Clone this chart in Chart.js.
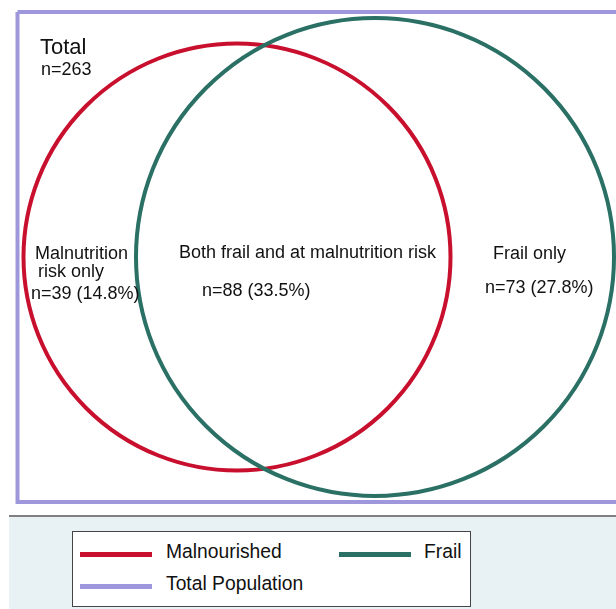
<!DOCTYPE html>
<html>
<head>
<meta charset="utf-8">
<script src="https://cdn.jsdelivr.net/npm/chart.js@4"></script>
<style>
  html, body { margin: 0; padding: 0; background: #fff; }
  #wrap { position: relative; width: 616px; height: 609px; overflow: hidden; font-family: "Liberation Sans", Arial, Helvetica, sans-serif; }
  #chartBox { position: absolute; left: 0; top: 0; width: 616px; height: 516px; }
  #bottom { position: absolute; left: 9px; top: 515px; width: 607px; height: 94px; background: #e8f1f3; border-top: 2px solid #808080; }
  #legend { position: absolute; left: 72px; top: 531px; width: 397px; height: 74px; background: #fff; border: 1.5px solid #444; }
  .item { position: absolute; font-size: 19.3px; color: #111; white-space: nowrap; }
  .swatch { position: absolute; height: 5px; width: 72px; }
</style>
</head>
<body>
<div id="wrap">
  <div id="chartBox"><canvas id="c"></canvas></div>
  <div id="bottom"></div>
  <div id="legend"></div>
</div>
<script>
// ---- data ----
const setNames   = ["Malnourished", "Frail"];
const setColors  = ["#c8102e", "#2a7065"];
const centerX    = [237, 375];
const centerY    = [257, 257];
const radii      = [213.5, 239];
const totalName  = "Total Population";
const totalColor = "#9e97dc";
const totalN     = 263;
const regionLabels = ["Malnutrition risk only", "Both frail and at malnutrition risk", "Frail only"];
const regionCounts = [39, 88, 73];
const regionPct    = [14.8, 33.5, 27.8];
// rectangle corners for total population frame (in plot units)
const rectX = [17.5, 660, 660, 17.5, 17.5];
const rectY = [12, 12, 502, 502, 12];

const FONT = '"Liberation Sans", Arial, Helvetica, sans-serif';

const textPlugin = {
  id: 'vennText',
  afterDatasetsDraw(chart) {
    const ctx = chart.ctx, xs = chart.scales.x, ys = chart.scales.y;
    const put = (t, x, y, size) => {
      ctx.font = size + 'px ' + FONT;
      ctx.fillStyle = '#111';
      ctx.textBaseline = 'alphabetic';
      ctx.textAlign = 'left';
      ctx.fillText(t, xs.getPixelForValue(x), ys.getPixelForValue(y));
    };
    ctx.save();
    put('Total', 40, 54, 22);
    put('n=' + totalN, 41, 75, 18);
    put('Malnutrition', 35, 259, 18);
    put(' risk only', 33, 277, 18);
    put('n=' + regionCounts[0] + ' (' + regionPct[0] + '%)', 31, 299, 18);
    put(regionLabels[1], 179, 258, 18);
    put('n=' + regionCounts[1] + ' (' + regionPct[1] + '%)', 202, 296, 18);
    put(regionLabels[2], 493, 259, 18);
    put('n=' + regionCounts[2] + ' (' + regionPct[2] + '%)', 485, 293, 18);
    ctx.restore();
  }
};

// circles drawn from centre/radius in data units, converted via the chart scales
const circlePlugin = {
  id: 'vennCircles',
  afterDatasetsDraw(chart) {
    const ctx = chart.ctx, xs = chart.scales.x, ys = chart.scales.y;
    ctx.save();
    setNames.forEach((name, i) => {
      const cx = xs.getPixelForValue(centerX[i]);
      const cy = ys.getPixelForValue(centerY[i]);
      const r = Math.abs(xs.getPixelForValue(centerX[i] + radii[i]) - cx);
      ctx.beginPath();
      ctx.arc(cx, cy, r, 0, Math.PI * 2);
      ctx.lineWidth = 4;
      ctx.strokeStyle = setColors[i];
      ctx.stroke();
    });
    ctx.restore();
  }
};

const datasets = [{
  type: 'scatter',
  label: totalName,
  data: rectX.map((x, i) => ({ x: x, y: rectY[i] })),
  showLine: true,
  borderColor: totalColor,
  borderWidth: 4,
  pointRadius: 0,
  tension: 0,
  borderJoinStyle: 'miter'
}];

new Chart(document.getElementById('c'), {
  type: 'scatter',
  data: { datasets },
  options: {
    responsive: true,
    maintainAspectRatio: false,
    animation: false,
    events: [],
    layout: { padding: 0 },
    clip: false,
    scales: {
      x: { type: 'linear', min: 0, max: 616, display: false },
      y: { type: 'linear', min: 0, max: 516, reverse: true, display: false }
    },
    plugins: { legend: { display: false }, tooltip: { enabled: false } }
  },
  plugins: [circlePlugin, textPlugin]
});

// ---- HTML legend ----
const legend = document.getElementById('legend');
const legendItems = [
  { name: setNames[0], color: setColors[0], sx: 7, tx: 93, y: 22 },
  { name: setNames[1], color: setColors[1], sx: 266, tx: 351, y: 22 },
  { name: totalName, color: totalColor, sx: 7, tx: 93, y: 54 }
];
legendItems.forEach(it => {
  const s = document.createElement('div');
  s.className = 'swatch';
  s.style.left = it.sx + 'px';
  s.style.top = (it.y - 2) + 'px';
  s.style.background = it.color;
  legend.appendChild(s);
  const t = document.createElement('div');
  t.className = 'item';
  t.textContent = it.name;
  t.style.left = it.tx + 'px';
  t.style.top = (it.y - 13) + 'px';
  legend.appendChild(t);
});
</script>
</body>
</html>
